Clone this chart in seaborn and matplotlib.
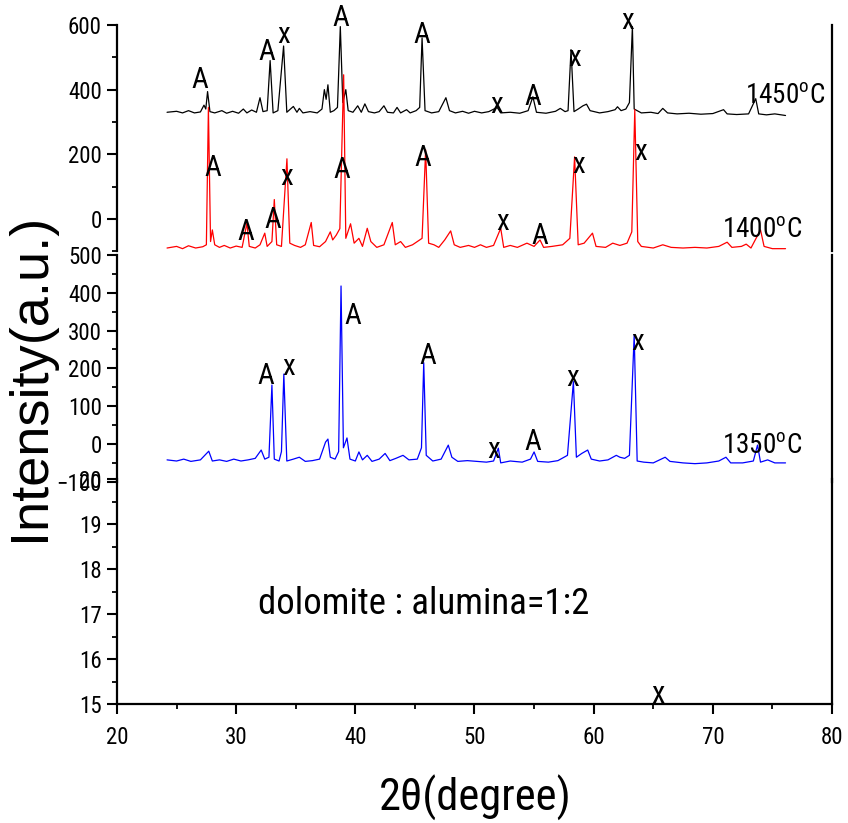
import numpy as np
import pandas as pd
import matplotlib
matplotlib.use("Agg")
import matplotlib.pyplot as plt
from matplotlib import font_manager as fm
from matplotlib.ticker import MultipleLocator
import seaborn as sns

# ---------------- data ----------------
tt_1450 = [24.2, 25.0, 25.5, 26.0, 26.5, 27.0, 27.3, 27.45, 27.6, 27.8, 28.2, 28.8, 29.2, 29.7,
           30.2, 30.6, 30.9, 31.3, 31.7, 32.0, 32.25, 32.6, 32.85, 33.1, 33.5, 33.98, 34.25, 34.8,
           35.1, 35.3, 35.6, 36.2, 36.8, 37.2, 37.4, 37.55, 37.7, 37.9, 38.2, 38.5, 38.74, 38.95,
           39.2, 39.4, 39.8, 40.2, 40.5, 40.8, 41.1, 41.6, 42.0, 42.4, 42.7, 43.2, 43.5, 43.8,
           44.3, 44.6, 45.1, 45.4, 45.6, 45.85, 46.4, 47.0, 47.6, 47.9, 48.4, 49.0, 49.5, 50.0,
           50.6, 51.2, 51.9, 52.2, 53.0, 53.8, 54.5, 54.9, 55.2, 56.0, 56.8, 57.2, 57.6, 57.85,
           58.1, 58.35, 58.7, 59.1, 59.4, 59.7, 60.5, 61.2, 61.8, 62.0, 62.3, 62.7, 63.0, 63.25,
           63.4, 64.0, 64.8, 65.4, 65.8, 66.2, 67.0, 68.0, 69.0, 70.0, 70.9, 71.2, 72.0, 73.0,
           73.6, 73.85, 74.5, 75.2, 76.1]
int_1450 = [330, 333, 328, 335, 328, 331, 352, 340, 394, 332, 328, 335, 327, 333,
            327, 340, 328, 337, 330, 375, 332, 335, 490, 328, 335, 535, 330, 348,
            330, 342, 328, 332, 328, 340, 400, 370, 415, 330, 335, 345, 595, 360,
            400, 335, 330, 350, 330, 356, 332, 328, 332, 350, 330, 328, 345, 328,
            338, 328, 335, 345, 560, 335, 328, 332, 375, 335, 328, 333, 327, 333,
            328, 332, 345, 328, 330, 327, 335, 378, 330, 327, 333, 342, 332, 335,
            524, 332, 340, 350, 355, 335, 328, 332, 338, 347, 335, 340, 360, 595,
            340, 328, 330, 326, 342, 328, 325, 327, 324, 326, 338, 325, 323, 325,
            372, 325, 322, 325, 320]

tt_1400 = [24.2, 25.0, 25.5, 26.0, 26.6, 27.2, 27.5, 27.67, 27.85, 28.0, 28.2, 28.6, 29.0, 29.5,
           30.0, 30.5, 30.9, 31.1, 31.6, 32.0, 32.4, 32.6, 33.0, 33.2, 33.4, 33.8, 34.26, 34.5,
           34.9, 35.4, 35.8, 36.3, 36.5, 37.0, 37.5, 37.9, 38.1, 38.4, 38.7, 39.02, 39.2, 39.6,
           39.9, 40.3, 40.6, 41.0, 41.3, 41.8, 42.4, 43.1, 43.35, 43.8, 44.2, 44.8, 45.6, 45.9,
           46.15, 46.6, 47.0, 47.5, 48.0, 48.3, 48.8, 49.5, 50.0, 50.5, 51.0, 51.6, 52.2, 52.45,
           53.0, 53.6, 54.4, 55.0, 55.5, 55.8, 56.5, 57.4, 58.0, 58.4, 58.7, 59.2, 59.9, 60.2,
           61.0, 61.6, 62.2, 62.8, 63.2, 63.45, 63.7, 64.0, 65.0, 65.8, 66.5, 67.5, 68.5, 69.5,
           70.5, 71.2, 71.6, 72.4, 72.8, 73.2, 74.0, 74.3, 75.0, 76.1]
int_1400 = [-90, -85, -92, -83, -90, -86, -80, 345, -70, -34, -80, -88, -82, -90,
            -84, -88, -13, -85, -90, -80, -44, -85, -70, 60, -80, -85, 186, -75,
            -82, -88, -80, -11, -82, -86, -70, -40, -65, -50, -30, 446, -60, -15,
            -75, -60, -85, -29, -70, -88, -80, -11, -80, -70, -88, -80, -60, 214,
            -75, -80, -88, -65, -37, -80, -88, -82, -88, -80, -88, -82, -29, -88,
            -82, -88, -75, -85, -65, -88, -85, -80, -60, 192, -80, -75, -44, -85,
            -88, -75, -82, -75, -40, 338, -70, -85, -90, -80, -88, -90, -88, -90,
            -85, -72, -88, -85, -78, -90, -34, -85, -92, -92]

tt_1350 = [24.2, 25.0, 25.6, 26.2, 27.0, 27.7, 28.0, 28.6, 29.2, 29.8, 30.4, 31.0, 31.6, 32.1,
           32.4, 32.75, 33.0, 33.2, 33.6, 33.8, 34.0, 34.25, 34.8, 35.3, 35.8, 36.4, 37.0, 37.5,
           37.7, 37.9, 38.3, 38.6, 38.8, 39.0, 39.3, 39.55, 40.0, 40.3, 40.6, 41.0, 41.4, 42.0,
           42.5, 42.9, 43.4, 44.0, 44.5, 45.2, 45.55, 45.74, 45.95, 46.5, 47.2, 47.8, 48.1, 48.6,
           49.4, 50.2, 51.0, 51.6, 52.0, 52.2, 53.0, 54.0, 54.7, 55.0, 55.3, 56.2, 57.0, 57.8,
           58.3, 58.55, 59.0, 59.5, 59.8, 60.5, 61.2, 61.9, 62.2, 62.6, 63.0, 63.4, 63.65, 64.2,
           65.0, 66.0, 66.4, 67.5, 68.5, 69.5, 70.5, 71.1, 71.5, 72.5, 73.4, 73.75, 74.0, 74.6,
           75.2, 76.1]
int_1350 = [-42, -45, -40, -46, -42, -19, -45, -42, -46, -40, -45, -42, -38, -16,
            -40, -35, 156, -40, -45, -20, 185, -45, -40, -35, -46, -44, -40, 5,
            13, -35, -40, -20, 418, -10, 16, -40, -45, -21, -42, -30, -46, -40,
            -25, -44, -38, -30, -42, -40, -10, 215, -30, -45, -40, -3, -35, -46,
            -44, -46, -48, -45, -11, -50, -45, -48, -40, -21, -46, -48, -44, -30,
            165, -35, -25, -16, -40, -45, -42, -30, -35, -38, -30, 288, -45, -48,
            -50, -35, -46, -50, -52, -50, -45, -35, -50, -50, -45, -3, -48, -42,
            -50, -50]

# phase labels (A = alumina, x = other phase)
lab_1450 = ['A', 'A', 'x', 'A', 'A', 'x', 'A', 'x', 'x']
lab_1450_x = [26.97, 32.6, 33.95, 38.74, 45.6, 51.85, 54.9, 58.4, 62.86]
lab_1450_y = [431, 515, 570, 623, 570, 353, 378, 499, 611]

lab_1400 = ['A', 'A', 'A', 'x', 'A', 'A', 'x', 'A', 'x', 'x']
lab_1400_x = [28.07, 30.84, 33.1, 34.2, 38.9, 45.7, 52.35, 55.5, 58.7, 63.95]
lab_1400_y = [158, -40, -3, 130, 152, 189, -9, -53, 167, 208]

lab_1350 = ['A', 'x', 'A', 'A', 'x', 'A', 'x', 'x']
lab_1350_x = [32.5, 34.4, 39.8, 46.1, 51.6, 54.9, 58.2, 63.7]
lab_1350_y = [180, 204, 339, 233, -16, 5, 175, 270]

temps = ['1450', '1400', '1350']
x_ticks = [20, 30, 40, 50, 60, 70, 80]
top_yticks = [0, 200, 400, 600]
mid_yticks = [-100, 0, 100, 200, 300, 400, 500]
bot_yticks = [15, 16, 17, 18, 19, 20]
ratio_text = 'dolomite : alumina=1:2'

# ---------------- style ----------------
sns.set_style("ticks")
names = {f.name for f in fm.fontManager.ttflist}
FONT, SC = 'Liberation Sans', 0.86
for cand in ['Liberation Sans Narrow', 'Arial Narrow', 'Roboto Condensed', 'Open Sans Condensed']:
    if cand in names:
        FONT, SC = cand, 1.0
        break

plt.rcParams['font.family'] = [FONT, 'DejaVu Sans']
plt.rcParams['mathtext.fontset'] = 'custom'
plt.rcParams['mathtext.rm'] = FONT
plt.rcParams['mathtext.it'] = FONT
plt.rcParams['axes.linewidth'] = 1.6
for k in ['text.color', 'axes.labelcolor', 'xtick.color', 'ytick.color', 'axes.edgecolor']:
    plt.rcParams[k] = 'black'

W, H = 848, 823
fig = plt.figure(figsize=(W / 100, H / 100), dpi=100)

def frac_rect(top_px, bot_px, left_px=117, right_px=832):
    return [left_px / W, 1 - bot_px / H, (right_px - left_px) / W, (bot_px - top_px) / H]

ax_top = fig.add_axes(frac_rect(25, 251.25))
ax_mid = fig.add_axes(frac_rect(255, 481.8))
ax_bot = fig.add_axes(frac_rect(479, 704))

TICK_FS = 16.5 * SC
for ax in (ax_top, ax_mid, ax_bot):
    ax.set_facecolor('none')
    ax.set_xlim(20, 80)
    ax.spines['top'].set_visible(False)
    ax.spines['right'].set_visible(True)
    ax.tick_params(axis='y', which='major', length=7, width=1.5, direction='out',
                   labelsize=TICK_FS, pad=4, right=False)
    ax.tick_params(axis='y', which='minor', length=3.5, width=1.3, direction='out', right=False)

for ax in (ax_top, ax_mid):
    ax.spines['bottom'].set_visible(False)
    ax.tick_params(axis='x', which='both', bottom=False, labelbottom=False)

ax_top.set_ylim(-100, 600)
ax_top.set_yticks(top_yticks)
ax_top.yaxis.set_minor_locator(MultipleLocator(100))

ax_mid.set_ylim(-100, 500)
ax_mid.set_yticks(mid_yticks)
ax_mid.yaxis.set_minor_locator(MultipleLocator(50))

ax_bot.set_ylim(15, 20)
ax_bot.set_yticks(bot_yticks)
ax_bot.yaxis.set_minor_locator(MultipleLocator(0.5))
ax_bot.set_xticks(x_ticks)
ax_bot.xaxis.set_minor_locator(MultipleLocator(5))
ax_bot.tick_params(axis='x', which='major', length=7, width=1.5, direction='out',
                   labelsize=TICK_FS, pad=9)
ax_bot.tick_params(axis='x', which='minor', length=3.5, width=1.3, direction='out')

# ---------------- traces ----------------
df_1450 = pd.DataFrame({'two_theta': tt_1450, 'intensity': int_1450})
df_1400 = pd.DataFrame({'two_theta': tt_1400, 'intensity': int_1400})
df_1350 = pd.DataFrame({'two_theta': tt_1350, 'intensity': int_1350})

sns.lineplot(data=df_1450, x='two_theta', y='intensity', ax=ax_top, color='black',
             lw=0.9, sort=False, estimator=None)
sns.lineplot(data=df_1400, x='two_theta', y='intensity', ax=ax_top, color='red',
             lw=0.9, sort=False, estimator=None)
sns.lineplot(data=df_1350, x='two_theta', y='intensity', ax=ax_mid, color='blue',
             lw=0.9, sort=False, estimator=None)
for ax in (ax_top, ax_mid, ax_bot):
    ax.set_xlabel('')
    ax.set_ylabel('')

# ---------------- labels ----------------
def put_labels(ax, labs, xs, ys):
    for t, x, y in zip(labs, xs, ys):
        ax.text(x, y, t, fontsize=20 * SC + 1, ha='center', va='center', clip_on=False)

put_labels(ax_top, lab_1450, lab_1450_x, lab_1450_y)
put_labels(ax_top, lab_1400, lab_1400_x, lab_1400_y)
put_labels(ax_mid, lab_1350, lab_1350_x, lab_1350_y)

TFS = 19.5 * SC
ax_top.text(72.7, 381, temps[0] + r'$^{\mathrm{o}}$C', fontsize=TFS, ha='left', va='center')
ax_top.text(70.8, -34, temps[1] + r'$^{\mathrm{o}}$C', fontsize=TFS, ha='left', va='center')
ax_mid.text(70.8, -3, temps[2] + r'$^{\mathrm{o}}$C', fontsize=TFS, ha='left', va='center')

ax_bot.text(31.85, 17.0, ratio_text, fontsize=26.5 * SC, ha='left', va='baseline')
ax_bot.text(65.4, 15.02, 'x', fontsize=22, ha='center', va='baseline', clip_on=False)

fig.text(475 / W, 1 - 798 / H, '2θ(degree)', fontsize=32 * SC, ha='center', va='center')
fig.text(30 / W, 1 - 377 / H, 'Intensity(a.u.)', fontsize=39, ha='center', va='center',
         rotation=90, family=['Liberation Sans', 'DejaVu Sans'])

fig.savefig('out.png', dpi=100)
